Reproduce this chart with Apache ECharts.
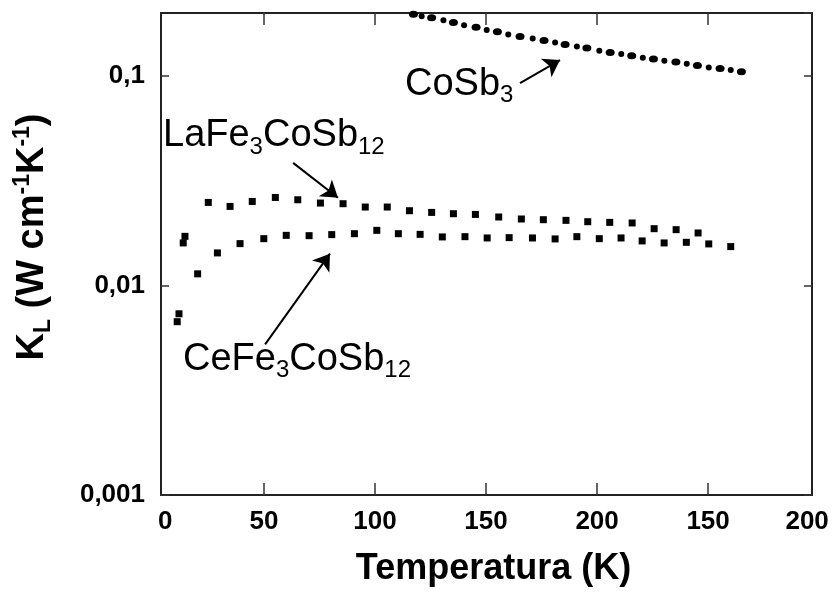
<!DOCTYPE html>
<html>
<head>
<meta charset="utf-8">
<title>KL vs T</title>
<script src="https://cdn.jsdelivr.net/npm/echarts@6/dist/echarts.min.js"></script>
<style>
  html, body { margin: 0; padding: 0; background: #fff; }
  #main { width: 837px; height: 592px; }
</style>
</head>
<body>
<div id="main"></div>
<script>
// temperatures (K) and lattice thermal conductivity (W cm-1 K-1)
const tempCoSb3 = [117.3, 121.0, 125.5, 130.8, 135.3, 140.1, 145.5, 150.3, 155.1, 160.0, 165.3, 171.0, 176.1, 181.1, 185.6, 190.9, 195.4, 201.0, 205.9, 210.9, 215.6, 220.6, 225.4, 230.3, 235.5, 240.4, 245.2, 250.3, 255.4, 260.2, 265.0];
const kCoSb3 = [0.197, 0.193, 0.1896, 0.1848, 0.180, 0.175, 0.171, 0.166, 0.1626, 0.158, 0.1545, 0.151, 0.148, 0.1447, 0.1416, 0.1385, 0.136, 0.132, 0.1297, 0.1273, 0.1249, 0.1222, 0.1205, 0.1183, 0.1166, 0.1144, 0.1124, 0.110, 0.1088, 0.1068, 0.1048];

const tempLa = [13.6, 14.4, 24.9, 34.7, 44.7, 55.1, 65.2, 75.4, 85.6, 95.6, 105.5, 115.5, 125.5, 135.3, 145.2, 155.7, 165.9, 175.8, 186.0, 195.8, 205.7, 215.8, 225.7, 235.6, 245.5];
const kLa = [0.01597, 0.01717, 0.02493, 0.02386, 0.0252, 0.02633, 0.02567, 0.02476, 0.02458, 0.0237, 0.0237, 0.02276, 0.02234, 0.02202, 0.02185, 0.02124, 0.02078, 0.02062, 0.02047, 0.02017, 0.02002, 0.01989, 0.01868, 0.01848, 0.01782];

const tempCe = [10.9, 11.7, 20.1, 29.0, 39.2, 49.9, 60.0, 70.3, 80.5, 90.7, 100.8, 110.5, 120.3, 130.3, 140.5, 150.5, 160.4, 170.9, 181.1, 190.9, 201.0, 210.8, 220.3, 230.2, 240.2, 250.3, 260.2];
const kCe = [0.00672, 0.00733, 0.01137, 0.01431, 0.01585, 0.01674, 0.01736, 0.0173, 0.0175, 0.01768, 0.01834, 0.01768, 0.01755, 0.01706, 0.01711, 0.01687, 0.01693, 0.01687, 0.01669, 0.01711, 0.01674, 0.01687, 0.01633, 0.01597, 0.01608, 0.0158, 0.01534];

// axis ticks and labels (the x labels are printed as in the figure)
const xTickAt = [50, 100, 150, 200, 250];
const xLabelAt = [5.5, 50, 100, 150, 200, 250, 294.6];
const xLabelText = ['0', '50', '100', '150', '200', '150', '200'];
const yTickText = { '-3': '0,001', '-2': '0,01', '-1': '0,1' };

// annotations, in data coordinates
const noteText = ['{m|CoSb}{s|3}', '{m|LaFe}{s|3}{m|CoSb}{s|12}', '{m|CeFe}{s|3}{m|CoSb}{s|12}'];
const noteAt = [[113.5, 0.0916], [4.5, 0.0518], [13.5, 0.00444]];
const arrowFrom = [[165.3, 0.0926], [63.1, 0.03852], [50.5, 0.005236]];
const arrowTo = [[183.3, 0.1192], [83.3, 0.02624], [79.7, 0.0142]];

const zip = (xs, ys) => xs.map((x, i) => [x, ys[i]]);
const ink = '#000';
const fontFam = '"Liberation Sans", Arial, Helvetica, sans-serif';

let chart = echarts.init(document.getElementById('main'));

const xCommon = {
  type: 'value',
  min: 3.6,
  max: 296.8,
  splitLine: { show: false },
  axisLine: { lineStyle: { color: '#222', width: 2 } },
  axisTick: { inside: true, length: 12, customValues: xTickAt, lineStyle: { color: '#333', width: 1.5 } }
};
const yCommon = {
  type: 'log',
  logBase: 10,
  min: 0.001,
  max: 0.2,
  splitLine: { show: false },
  minorTick: { show: false },
  axisLine: { show: true, lineStyle: { color: '#222', width: 2 } },
  axisTick: { inside: true, length: 8, lineStyle: { color: '#333', width: 1.5 } }
};

let option = {
  animation: false,
  backgroundColor: '#fff',
  grid: { left: 161, right: 25, top: 13, bottom: 97, outerBoundsMode: 'none' },
  xAxis: [
    Object.assign({}, xCommon, {
      position: 'bottom',
      name: 'Temperatura (K)',
      nameLocation: 'middle',
      nameGap: 56,
      nameTextStyle: { fontFamily: fontFam, fontWeight: 'bold', fontSize: 36, color: ink, padding: [0, 0, 0, 14] },
      axisLabel: {
        customValues: xLabelAt,
        margin: 14,
        fontFamily: fontFam, fontWeight: 'bold', fontSize: 26, color: ink,
        formatter: v => {
          const i = xLabelAt.findIndex(p => Math.abs(p - v) < 1e-6);
          return i < 0 ? '' : xLabelText[i];
        }
      }
    }),
    Object.assign({}, xCommon, { position: 'top', axisLabel: { show: false } })
  ],
  yAxis: [
    Object.assign({}, yCommon, {
      position: 'left',
      name: '{b|K}{sub|L}{b| (W cm}{sup|-1}{b|K}{sup|-1}{b|)}',
      nameLocation: 'middle',
      nameGap: 106,
      nameTextStyle: {
        color: ink,
        padding: [0, 0, 0, 34],
        rich: {
          b: { fontFamily: fontFam, fontWeight: 'bold', fontSize: 38, color: ink },
          sub: { fontFamily: fontFam, fontWeight: 'bold', fontSize: 23, color: ink, padding: [22, 0, 0, 0] },
          sup: { fontFamily: fontFam, fontWeight: 'bold', fontSize: 23, color: ink, padding: [0, 0, 19, 0] }
        }
      },
      axisLabel: {
        margin: 16,
        showMaxLabel: false,
        fontFamily: fontFam, fontWeight: 'bold', fontSize: 26, color: ink,
        formatter: v => yTickText[String(Math.round(Math.log10(v)))] || ''
      }
    }),
    Object.assign({}, yCommon, { position: 'right', axisLabel: { show: false } })
  ],
  series: [
    {
      name: 'CoSb3',
      type: 'scatter',
      data: zip(tempCoSb3, kCoSb3),
      symbol: 'circle',
      symbolSize: (val, p) => (p.dataIndex % 2 === 0 ? [9, 7] : [6, 6]),
      itemStyle: { color: ink, opacity: 1 },
      clip: true,
      markLine: {
        silent: true,
        symbol: ['none', 'arrow'],
        symbolSize: 16,
        label: { show: false },
        lineStyle: { color: ink, width: 2, type: 'solid', opacity: 1 },
        data: arrowFrom.map((a, i) => [{ coord: a }, { coord: arrowTo[i] }])
      }
    },
    {
      name: 'LaFe3CoSb12',
      type: 'scatter',
      data: zip(tempLa, kLa),
      symbol: 'rect',
      symbolSize: 7,
      itemStyle: { color: ink, opacity: 1 },
      clip: true
    },
    {
      name: 'CeFe3CoSb12',
      type: 'scatter',
      data: zip(tempCe, kCe),
      symbol: 'rect',
      symbolSize: 7,
      itemStyle: { color: ink, opacity: 1 },
      clip: true
    }
  ]
};

chart.setOption(option);

// place the compound names at their data anchors
const noteRich = {
  m: { fontFamily: fontFam, fontSize: 38, color: ink },
  s: { fontFamily: fontFam, fontSize: 24, color: ink, padding: [22, 0, 0, 0] }
};
chart.setOption({
  graphic: noteText.map((t, i) => {
    const p = chart.convertToPixel({ gridIndex: 0 }, noteAt[i]);
    return {
      type: 'text',
      x: p[0],
      y: p[1],
      silent: true,
      style: { text: t, rich: noteRich, align: 'left', verticalAlign: 'middle', fill: ink }
    };
  })
});
</script>
</body>
</html>
